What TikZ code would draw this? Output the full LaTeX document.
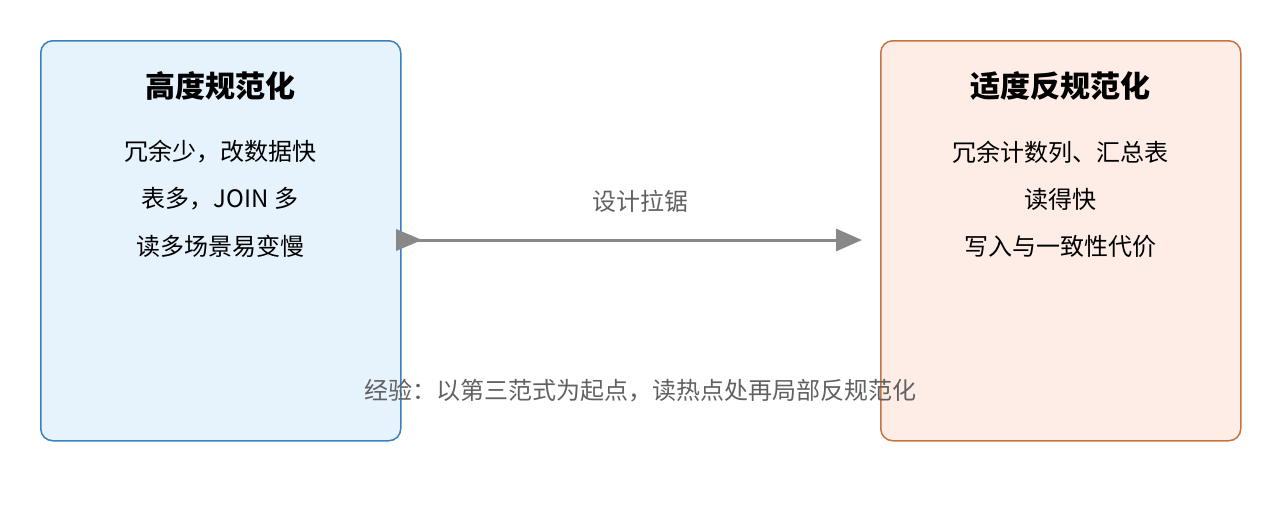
\documentclass[tikz,border=0pt]{standalone}
\usepackage{fontspec}
\setmainfont{Noto Sans CJK SC}
\usetikzlibrary{arrows.meta}
\definecolor{bluef}{HTML}{E6F2FC}
\definecolor{blued}{HTML}{3A7FC1}
\definecolor{orf}{HTML}{FDEDE6}
\definecolor{ord}{HTML}{C87440}
\definecolor{arr}{HTML}{888888}
\begin{document}
\begin{tikzpicture}[x=1pt,y=-1pt,
  box/.style={draw,line width=1.5pt,rounded corners=12pt,minimum width=360pt,minimum height=400pt,anchor=north west,inner sep=0pt},
  ttl/.style={font=\fontsize{30}{34}\selectfont\bfseries},
  txt/.style={font=\fontsize{24}{28}\selectfont},
  gtxt/.style={font=\fontsize{24}{28}\selectfont,text=black!62}]
\useasboundingbox (0,0) rectangle (1280,520);
\node[box,fill=bluef,draw=blued] (L) at (40,40) {};
\node[box,fill=orf,draw=ord] (R) at (880,40) {};
\node[ttl] (lt) at (220,86) {高度规范化};
\node[txt] (l1) at (220,152) {冗余少，改数据快};
\node[txt] (l2) at (220,199) {表多，JOIN 多};
\node[txt] (l3) at (220,246) {读多场景易变慢};
\node[ttl] (rt) at (1060,86) {适度反规范化};
\node[txt] (r1) at (1060,152) {冗余计数列、汇总表};
\node[txt] (r2) at (1060,199) {读得快};
\node[txt] (r3) at (1060,246) {写入与一致性代价};
\coordinate (a0) at (400,240);
\coordinate (a1) at (862,240);
\draw[arr,line width=3pt,-{Triangle[length=26pt,width=22pt]}] (a0) -- (a1);
\fill[arr] (396,229) -- (422,240) -- (396,251) -- cycle;
\node[gtxt] (lab) at (640,201) {设计拉锯};
\node[gtxt] (note) at (640,391) {经验：以第三范式为起点，读热点处再局部反规范化};
\end{tikzpicture}
\end{document}
